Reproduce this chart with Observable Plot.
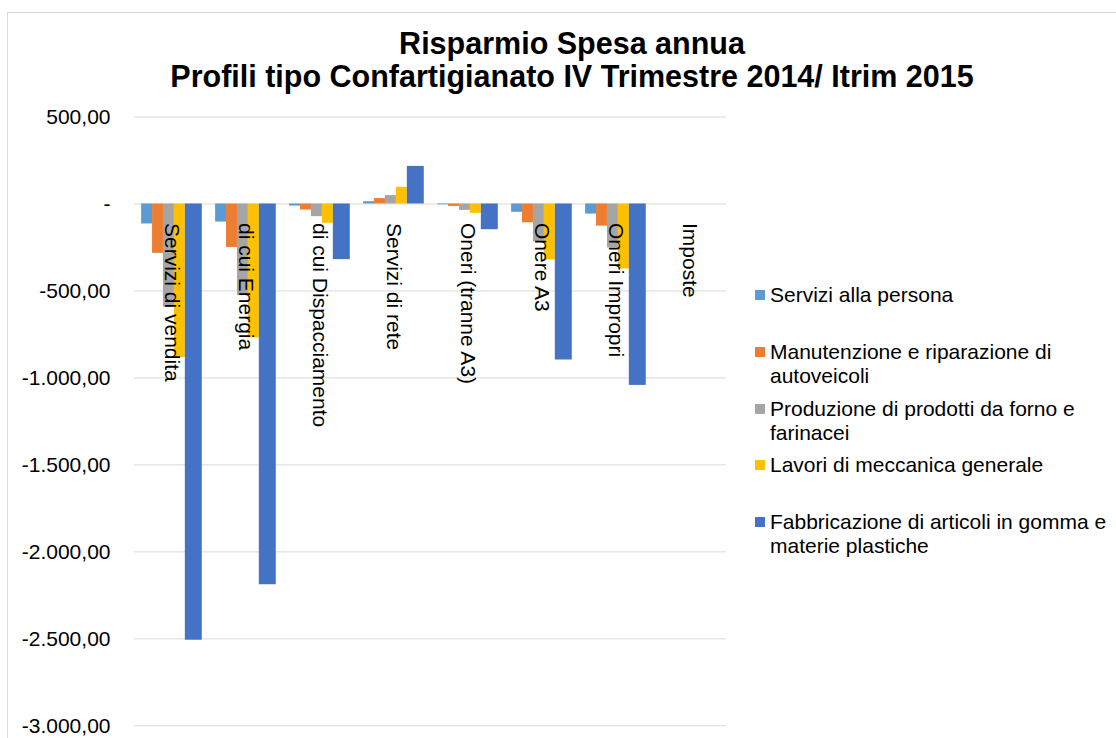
<!DOCTYPE html>
<html>
<head>
<meta charset="utf-8">
<script src="https://cdn.jsdelivr.net/npm/d3@7"></script>
<script src="https://cdn.jsdelivr.net/npm/@observablehq/plot@0.6"></script>
<style>
  html, body { margin: 0; padding: 0; background: #fff; }
  body { font-family: "Liberation Sans", Arial, sans-serif; color: #000; }
  #wrap { position: relative; width: 1116px; height: 738px; overflow: hidden; }
  #frame { position: absolute; left: 7px; top: 12px; width: 1200px; height: 800px; border: 1px solid #d9d9d9; box-sizing: border-box; }
  #title { position: absolute; top: 27px; left: 0; width: 1144px; text-align: center; font-weight: bold; font-size: 30.5px; line-height: 33px; }
  #chart { position: absolute; left: 0; top: 100px; }
  #legend { position: absolute; left: 755px; top: 283px; }
  .item { display: flex; align-items: flex-start; height: 56.75px; }
  .sw { width: 10px; height: 10px; margin-top: 7px; margin-right: 5px; flex: none; }
  .lab { font-size: 21px; line-height: 24px; width: 352px; }
</style>
</head>
<body>
<div id="wrap">
  <div id="frame"></div>
  <div id="title">Risparmio Spesa annua<br>Profili tipo Confartigianato IV Trimestre 2014/ Itrim 2015</div>
  <div id="chart"></div>
  <div id="legend"></div>
</div>
<script>
// ---- data ----
const categories = ["Servizi di vendita", "di cui Energia", "di cui Dispacciamento", "Servizi di rete",
                    "Oneri (tranne A3)", "Onere A3", "Oneri Impropri", "Imposte"];
const series = ["Servizi alla persona", "Manutenzione e riparazione di autoveicoli",
                "Produzione di prodotti da forno e farinacei", "Lavori di meccanica generale",
                "Fabbricazione di articoli in gomma e materie plastiche"];
const serviziPersona   = [-115, -104, -12, 13, -5, -48, -58, 0];
const manutenzione     = [-284, -250, -35, 31, -14, -108, -127, 0];
const produzioneForno  = [-594, -527, -73, 48, -37, -217, -253, 0];
const lavoriMeccanica  = [-882, -770, -111, 96, -54, -322, -374, 0];
const fabbricazione    = [-2508, -2189, -320, 216, -148, -897, -1043, 0];
const yTicks = [500, 0, -500, -1000, -1500, -2000, -2500, -3000];

// ---- styles ----
const colors = ["#5B9BD5", "#ED7D31", "#A5A5A5", "#FFC000", "#4472C4"];
const barWidths = [1, 1, 1, 1, 1.55];
const barStart = d3.cumsum([0, ...barWidths]);

const seriesValues = [serviziPersona, manutenzione, produzioneForno, lavoriMeccanica, fabbricazione];
const data = [];
categories.forEach((c, i) => seriesValues.forEach((arr, k) =>
  data.push({category: c, series: series[k], value: arr[i], k})));

const itFmt = d3.formatLocale({decimal: ",", thousands: ".", grouping: [3], currency: ["", "€"], minus: "-"}).format(",.2f");
const tickFormat = d => d === 0 ? "-" : itFmt(d);

const chart = Plot.plot({
  width: 1116,
  height: 638,
  marginTop: 16.5,
  marginBottom: 12.7,
  marginLeft: 132,
  marginRight: 388,
  style: {fontFamily: "'Liberation Sans', Arial, sans-serif", fontSize: "21px", color: "#000", background: "transparent", overflow: "visible"},
  fx: {domain: categories, padding: 0, axis: null},
  x: {domain: [-0.65, 6.12], axis: null},
  y: {domain: [-3000, 500], ticks: yTicks, tickFormat, tickSize: 0, tickPadding: 24, label: null},
  color: {domain: series, range: colors},
  marks: [
    Plot.ruleY(yTicks, {stroke: "#d9d9d9", strokeWidth: 1}),
    Plot.rectY(data, {fx: "category", x1: d => barStart[d.k], x2: d => barStart[d.k] + barWidths[d.k],
                      y1: () => 0, y2: "value", fill: "series"}),
    Plot.text(categories, {fx: d => d, y: () => 0, text: d => d, rotate: 90, textAnchor: "start",
                           dy: 19, fontSize: 21, fill: "#000"})
  ]
});
document.getElementById("chart").appendChild(chart);

// legend
const legend = document.getElementById("legend");
series.forEach((s, k) => {
  const item = document.createElement("div");
  item.className = "item";
  const sw = document.createElement("div");
  sw.className = "sw";
  sw.style.background = colors[k];
  const lab = document.createElement("div");
  lab.className = "lab";
  lab.textContent = s;
  item.appendChild(sw);
  item.appendChild(lab);
  legend.appendChild(item);
});
</script>
</body>
</html>
